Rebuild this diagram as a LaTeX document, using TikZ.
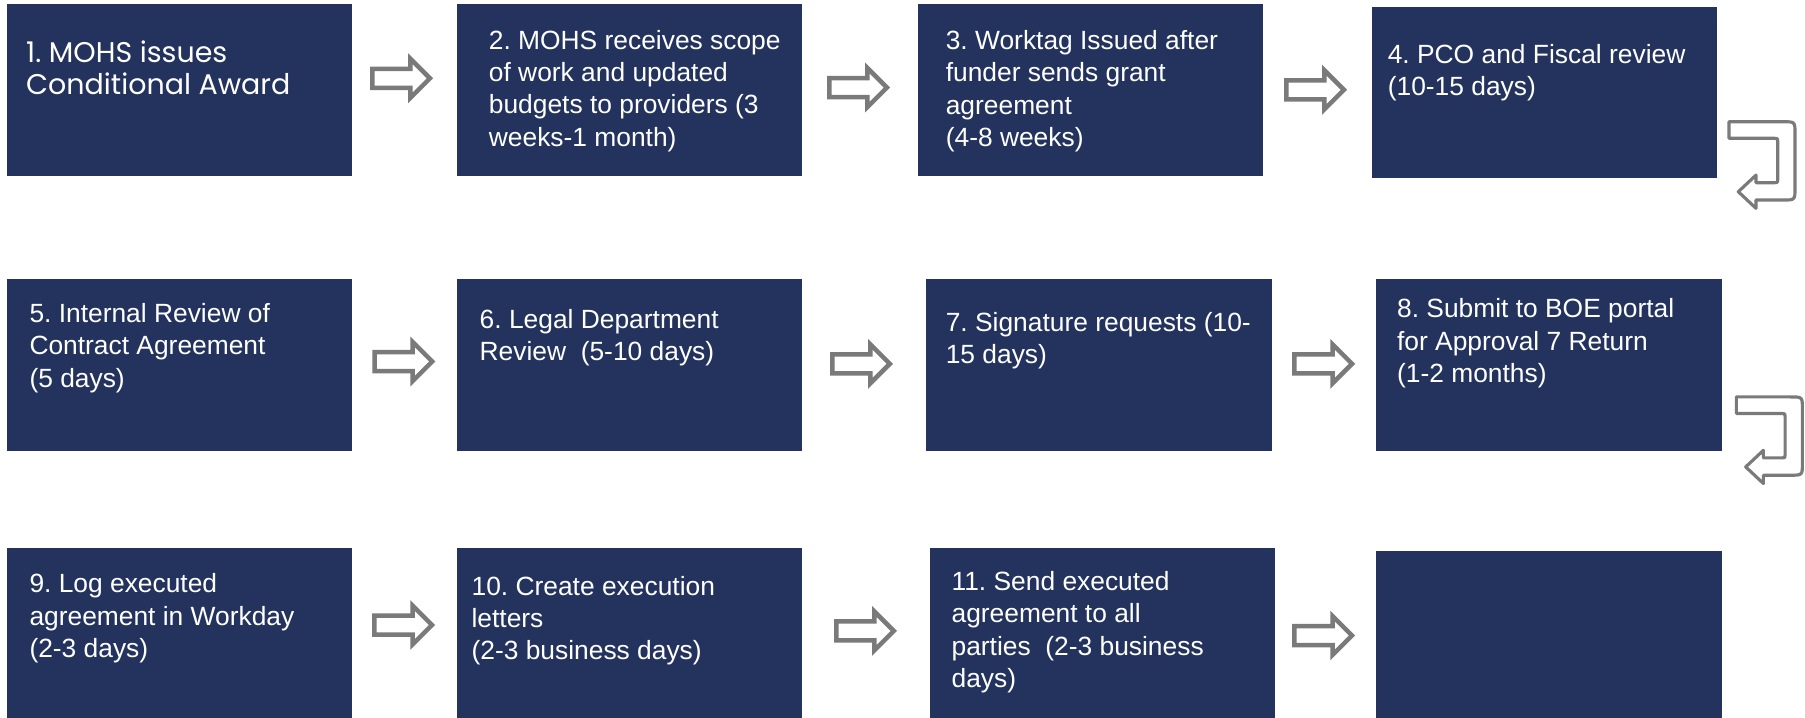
\documentclass[tikz,border=0pt]{standalone}
\usepackage{fontspec}
\setmainfont{Liberation Sans}
\newfontfamily\awardfont{Poppins}
\usepackage{tikz}
\usetikzlibrary{shapes.arrows, positioning}
\usepackage{xcolor}
\definecolor{stepnavy}{RGB}{35,51,94}
\definecolor{arrowgray}{RGB}{122,122,122}
\frenchspacing
\tikzset{%
	stepbox/.style={
		rectangle,
		fill=stepnavy,
		draw=none,
		anchor=north west,
		minimum width=3.45cm,
		minimum height=1.715cm,
		inner sep=0pt
	},
	steptext/.style={
		anchor=base west,
		align=left,
		inner sep=0pt,
		text=white,
		font=\fontsize{7.5}{9.2}\selectfont
	},
	flowarrow/.style={
		single arrow,
		draw=arrowgray,
		fill=white,
		line width=1.28pt,
		inner xsep=0pt,
		inner ysep=0.0725cm,
		minimum height=0.575cm,
		single arrow head extend=0.1cm
	},
	uturn/.pic={
		\draw[draw=arrowgray, fill=white, line width=0.9pt, line join=round]
			(0,0) -- (54,0) .. controls (66,0) .. (66,12)
			-- (66,66.3) .. controls (66,78.3) .. (54,78.3)
			-- (27,78.3) -- (27,86.6) -- (9.3,70) -- (27,53.4) -- (27,61)
			-- (45.7,61) .. controls (48.7,61) .. (48.7,58)
			-- (48.7,19.6) .. controls (48.7,16.6) .. (45.7,16.6)
			-- (0,16.6) -- cycle;
	},
}

\begin{document}
\begin{tikzpicture}[x=0.01cm, y=-0.01cm]
			\useasboundingbox (0,0) rectangle (1805,717);
			
			% Boxes of the process
			\node[stepbox] (b1) at (6,3.5) {};
			\node[stepbox] (b2) at (456,3.5) {};
			\node[stepbox] (b3) at (917.5,3.5) {};
			\node[stepbox] (b4) at (1371,5.8) {};
			\node[stepbox] (b5) at (6,278.6) {};
			\node[stepbox] (b6) at (456,278.6) {};
			\node[stepbox] (b7) at (925.6,278.6) {};
			\node[stepbox] (b8) at (1375.7,278.6) {};
			\node[stepbox] (b9) at (6,546.8) {};
			\node[stepbox] (b10) at (456,546.8) {};
			\node[stepbox] (b11) at (929,546.8) {};
			\node[stepbox] (b12) at (1375.7,550.3) {};
			
			% Texts of the boxes (anchored at the last line)
			\node[steptext, font=\awardfont\fontsize{8.1}{9.2}\selectfont] (t1) at ([shift={(19.5,91.1)}]b1.north west) {1. MOHS issues\\Conditional Award};
			\node[steptext] (t2) at ([shift={(32.2,142.8)}]b2.north west) {2. MOHS receives scope\\of work and updated\\budgets to providers (3\\weeks-1 month)};
			\node[steptext] (t3) at ([shift={(27.6,143)}]b3.north west) {3. Worktag Issued after\\funder sends grant\\agreement\\(4-8 weeks)};
			\node[steptext] (t4) at ([shift={(16.1,89.8)}]b4.north west) {4. PCO and Fiscal review\\(10-15 days)};
			\node[steptext] (t5) at ([shift={(22.8,108.4)}]b5.north west) {5. Internal Review of\\Contract Agreement\\(5 days)};
			\node[steptext] (t6) at ([shift={(23,81.8)}]b6.north west) {6. Legal Department\\Review\ \ (5-10 days)};
			\node[steptext] (t7) at ([shift={(19.5,85.2)}]b7.north west) {7. Signature requests (10-\\15 days)};
			\node[steptext] (t8) at ([shift={(20.7,103.8)}]b8.north west) {8. Submit to BOE portal\\for Approval 7 Return\\(1-2 months)};
			\node[steptext] (t9) at ([shift={(22.8,110.8)}]b9.north west) {9. Log executed\\agreement in Workday\\(2-3 days)};
			\node[steptext] (t10) at ([shift={(14.9,113.1)}]b10.north west) {10. Create execution\\letters\\(2-3 business days)};
			\node[steptext] (t11) at ([shift={(21.9,140.8)}]b11.north west) {11. Send executed\\agreement to all\\parties\ \ (2-3 business\\days)};
			
			% Arrows between the boxes
			\node[flowarrow] (a1) at (396.4,78.3) {};
			\node[flowarrow] (a2) at (853.4,87.5) {};
			\node[flowarrow] (a3) at (1310.4,89.8) {};
			\node[flowarrow] (a4) at (398.7,361.5) {};
			\node[flowarrow] (a5) at (856.3,363.8) {};
			\node[flowarrow] (a6) at (1318.5,363.8) {};
			\node[flowarrow] (a7) at (398.5,625) {};
			\node[flowarrow] (a8) at (860.3,630.9) {};
			\node[flowarrow] (a9) at (1318.5,635.5) {};
			
			% Turns to the next row
			\pic at (1729,121.7) {uturn};
			\pic at (1736.4,396.9) {uturn};
			
		\end{tikzpicture}
\end{document}
